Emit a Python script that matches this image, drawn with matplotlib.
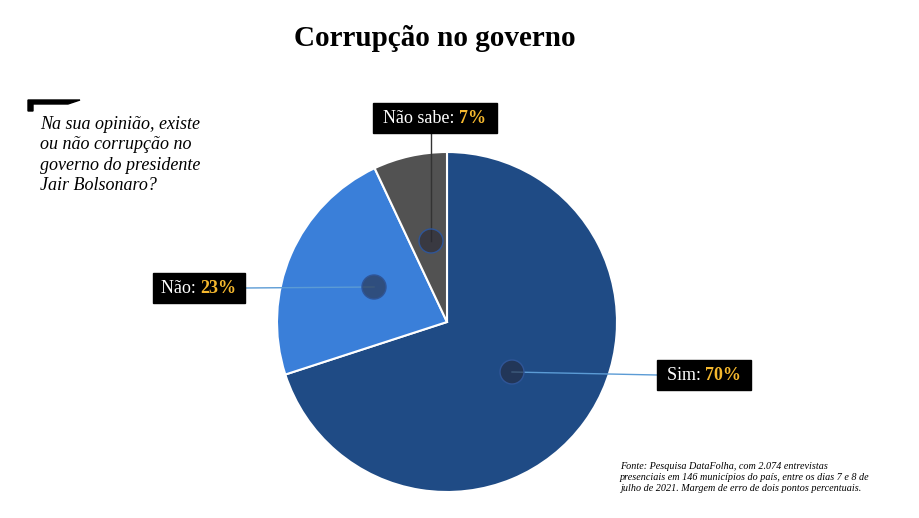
import matplotlib.pyplot as plt
from matplotlib.patches import Rectangle, Circle, Polygon

labels = ['Sim', 'Não', 'Não sabe']
values = [70, 23, 7]
colors = ['#1f4b85', '#3a7fd9', '#525252']
title = 'Corrupção no governo'
question = 'Na sua opinião, existe\nou não corrupção no\ngoverno do presidente\nJair Bolsonaro?'
source = ('Fonte: Pesquisa DataFolha, com 2.074 entrevistas\n'
          'presenciais em 146 municípios do país, entre os dias 7 e 8 de\n'
          'julho de 2021. Margem de erro de dois pontos percentuais.')

H = 518
fig = plt.figure(figsize=(9.2, 5.18), dpi=100)
ax = fig.add_axes([0, 0, 1, 1])
ax.set_xlim(0, 920)
ax.set_ylim(0, H)
ax.set_aspect('equal')
ax.axis('off')

ax.pie(values, colors=colors, startangle=90, counterclock=False,
       center=(447, H - 322), radius=170,
       wedgeprops=dict(edgecolor='white', linewidth=1.5))
ax.set_xlim(0, 920)
ax.set_ylim(0, H)
ax.set_aspect('equal')

ax.text(435, H - 38, title, ha='center', va='center', fontsize=21,
        fontweight='bold', family='Liberation Serif')
ax.text(40, H - 116, question, ha='left', va='top', fontsize=13,
        style='italic', family='Liberation Serif', linespacing=1.25)
ax.add_patch(Polygon([(28, H - 100), (80, H - 100), (68, H - 104), (33, H - 104),
                      (33, H - 111), (28, H - 111)], closed=True, color='black'))
ax.text(620, H - 462, source, ha='left', va='top', fontsize=7.3,
        style='italic', family='Liberation Serif', linespacing=1.3)

# dot, box center, line segment for each label
dots = [(512, 372), (374, 287), (431, 241)]
boxes = [(704, 375, 94, 30), (199, 288, 92, 30), (435, 118, 124, 30)]
lines = [((512, 372), (657, 375), '#5b9bd5'),
         ((374, 287), (245, 288), '#5b9bd5'),
         ((431, 241), (431, 133), '#333333')]

for (p0, p1, c) in lines:
    ax.plot([p0[0], p1[0]], [H - p0[1], H - p1[1]], color=c, lw=1, zorder=3)
for (x, y) in dots:
    ax.add_patch(Circle((x, H - y), 12, facecolor=(0.15, 0.15, 0.2, 0.55),
                        edgecolor='#2f5597', lw=1, zorder=4))

fig.canvas.draw()
r = fig.canvas.get_renderer()
for lab, v, (cx, cy, w, h) in zip(labels, values, boxes):
    ax.add_patch(Rectangle((cx - w / 2, H - cy - h / 2), w, h, color='black', zorder=5))
    t1 = ax.text(0, 0, lab + ': ', fontsize=13, family='Liberation Serif', color='white')
    t2 = ax.text(0, 0, f'{v}%', fontsize=13, family='Liberation Serif', color='#f5b82e',
                 fontweight='bold')
    w1 = t1.get_window_extent(r).width
    w2 = t2.get_window_extent(r).width
    x0 = cx - (w1 + w2) / 2
    t1.set_position((x0, H - cy))
    t2.set_position((x0 + w1, H - cy))
    for t in (t1, t2):
        t.set_va('center')
        t.set_zorder(6)

fig.savefig('out.png', dpi=100)
